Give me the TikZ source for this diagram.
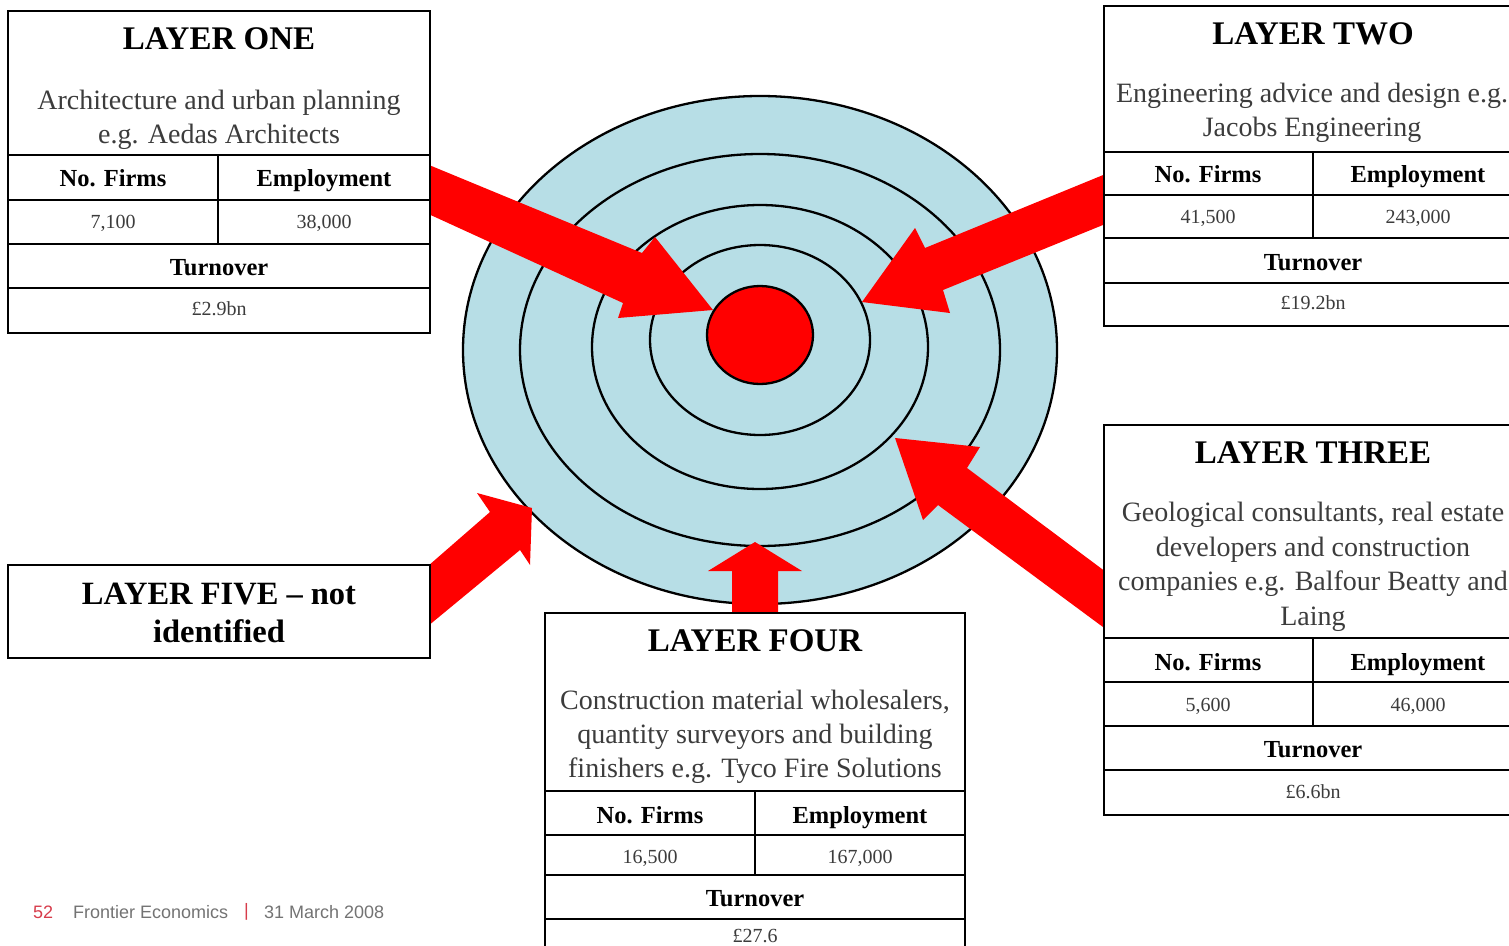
\documentclass[tikz,border=0pt]{standalone}
\usepackage{fontspec}
\setmainfont{Liberation Serif}
\newfontfamily\footfont{Liberation Sans}
\definecolor{ringblue}{RGB}{183,222,230}
\definecolor{descgray}{RGB}{60,60,60}
\definecolor{footgray}{RGB}{115,115,115}
\definecolor{footred}{RGB}{215,60,75}
\begin{document}
\begin{tikzpicture}[x=1pt,y=-1pt,
  titletext/.style={font=\fontsize{33}{38}\selectfont\bfseries, inner sep=0, anchor=base},
  desctext/.style={font=\fontsize{28}{34}\selectfont, text=descgray, inner sep=0, align=center},
  headtext/.style={font=\fontsize{24.5}{28}\selectfont\bfseries, inner sep=0, anchor=base},
  valtext/.style={font=\fontsize{20}{22}\selectfont, text=descgray, inner sep=0, anchor=base},
  foottext/.style={font=\footfont\fontsize{18}{22}\selectfont, inner sep=0, anchor=west, text=footgray},
  frame/.style={draw=black, line width=2.4pt, fill=white},
  rule/.style={draw=black, line width=2pt},
  blockarrow/.style={fill=red, draw=none},
  ring/.style={draw=black, line width=2.3pt}]
\useasboundingbox (0,0) rectangle (1509,945);
\clip (0,0) rectangle (1509,945);

% target rings
\draw[ring, fill=ringblue] (760,350) ellipse [x radius=297pt, y radius=254pt];
\draw[ring] (760,350) ellipse [x radius=240pt, y radius=196pt];
\draw[ring] (760,347) ellipse [x radius=168pt, y radius=142pt];
\draw[ring] (760,340) ellipse [x radius=110pt, y radius=95pt];
\draw[ring, fill=red] (760,335) ellipse [x radius=53pt, y radius=49pt];

% block arrows
\fill[blockarrow] (400,153) -- (642,253) -- (655,237) -- (713,310) -- (618,318) -- (623,303) -- (400,201) -- cycle;
\fill[blockarrow] (1130,164) -- (925,248) -- (915,228) -- (862,302) -- (950,313) -- (943,290) -- (1130,214) -- cycle;
\fill[blockarrow] (1130,590) -- (967,468) -- (980,447) -- (895,438) -- (923,520) -- (938,505) -- (1130,647) -- cycle;
\fill[blockarrow] (732,625) -- (732,571) -- (708,571) -- (755,542) -- (802,571) -- (778,571) -- (778,625) -- cycle;
\fill[blockarrow] (428,566) -- (490,512) -- (477,493) -- (532,508) -- (530,565) -- (520,550) -- (428,626) -- cycle;

% LAYER ONE
\draw[frame] (8,11) rectangle (430,333);
\draw[rule] (8,155) -- (430,155) (8,200) -- (430,200) (8,244) -- (430,244) (8,288) -- (430,288) (218,155) -- (218,244);
\node[titletext] (t1) at (219,49) {LAYER ONE};
\node[desctext] (d1) at (219,120) {Architecture and urban planning\\e.g. Aedas Architects};
\node[headtext] (h1a) at (113,186) {No. Firms};
\node[headtext] (h1b) at (324,186) {Employment};
\node[valtext] (v1a) at (113,228) {7,100};
\node[valtext] (v1b) at (324,228) {38,000};
\node[headtext] (u1) at (219,275) {Turnover};
\node[valtext] (w1) at (219,315) {£2.9bn};

% LAYER TWO
\draw[frame] (1104,6) rectangle (1525,326);
\draw[rule] (1104,152) -- (1525,152) (1104,195) -- (1525,195) (1104,238) -- (1525,238) (1104,283) -- (1525,283) (1313,152) -- (1313,238);
\node[titletext] (t2) at (1313,44) {LAYER TWO};
\node[desctext] (d2) at (1312,113) {Engineering advice and design e.g.\\Jacobs Engineering};
\node[headtext] (h2a) at (1208,182) {No. Firms};
\node[headtext] (h2b) at (1418,182) {Employment};
\node[valtext] (v2a) at (1208,223) {41,500};
\node[valtext] (v2b) at (1418,223) {243,000};
\node[headtext] (u2) at (1313,270) {Turnover};
\node[valtext] (w2) at (1313,309) {£19.2bn};

% LAYER THREE
\draw[frame] (1104,425) rectangle (1525,815);
\draw[rule] (1104,638) -- (1525,638) (1104,682) -- (1525,682) (1104,726) -- (1525,726) (1104,770) -- (1525,770) (1313,638) -- (1313,726);
\node[titletext] (t3) at (1313,463) {LAYER THREE};
\node[desctext, font=\fontsize{28}{34.5}\selectfont] (d3) at (1313,567) {Geological consultants, real estate\\developers and construction\\companies e.g. Balfour Beatty and\\Laing};
\node[headtext] (h3a) at (1208,670) {No. Firms};
\node[headtext] (h3b) at (1418,670) {Employment};
\node[valtext] (v3a) at (1208,711) {5,600};
\node[valtext] (v3b) at (1418,711) {46,000};
\node[headtext] (u3) at (1313,757) {Turnover};
\node[valtext] (w3) at (1313,798) {£6.6bn};

% LAYER FOUR
\draw[frame] (545,613) rectangle (965,990);
\draw[rule] (545,791) -- (965,791) (545,835) -- (965,835) (545,875) -- (965,875) (545,919) -- (965,919) (755,791) -- (755,875);
\node[titletext] (t4) at (755,651) {LAYER FOUR};
\node[desctext] (d4) at (755,737) {Construction material wholesalers,\\quantity surveyors and building\\finishers e.g. Tyco Fire Solutions};
\node[headtext] (h4a) at (650,823) {No. Firms};
\node[headtext] (h4b) at (860,823) {Employment};
\node[valtext] (v4a) at (650,863) {16,500};
\node[valtext] (v4b) at (860,863) {167,000};
\node[headtext] (u4) at (755,906) {Turnover};
\node[valtext] (w4) at (755,942) {£27.6};

% LAYER FIVE
\draw[frame] (8,565) rectangle (430,658);
\node[font=\fontsize{32.5}{38}\selectfont\bfseries, inner sep=0, align=center] (t5) at (219,613) {LAYER FIVE – not\\identified};

% footer
\node[foottext, text=footred] (f1) at (33,912) {52};
\node[foottext] (f2) at (73,912) {Frontier Economics};
\node[foottext, text=footred] (f3) at (244,912) {|};
\node[foottext] (f4) at (264,912) {31 March 2008};
\end{tikzpicture}
\end{document}
